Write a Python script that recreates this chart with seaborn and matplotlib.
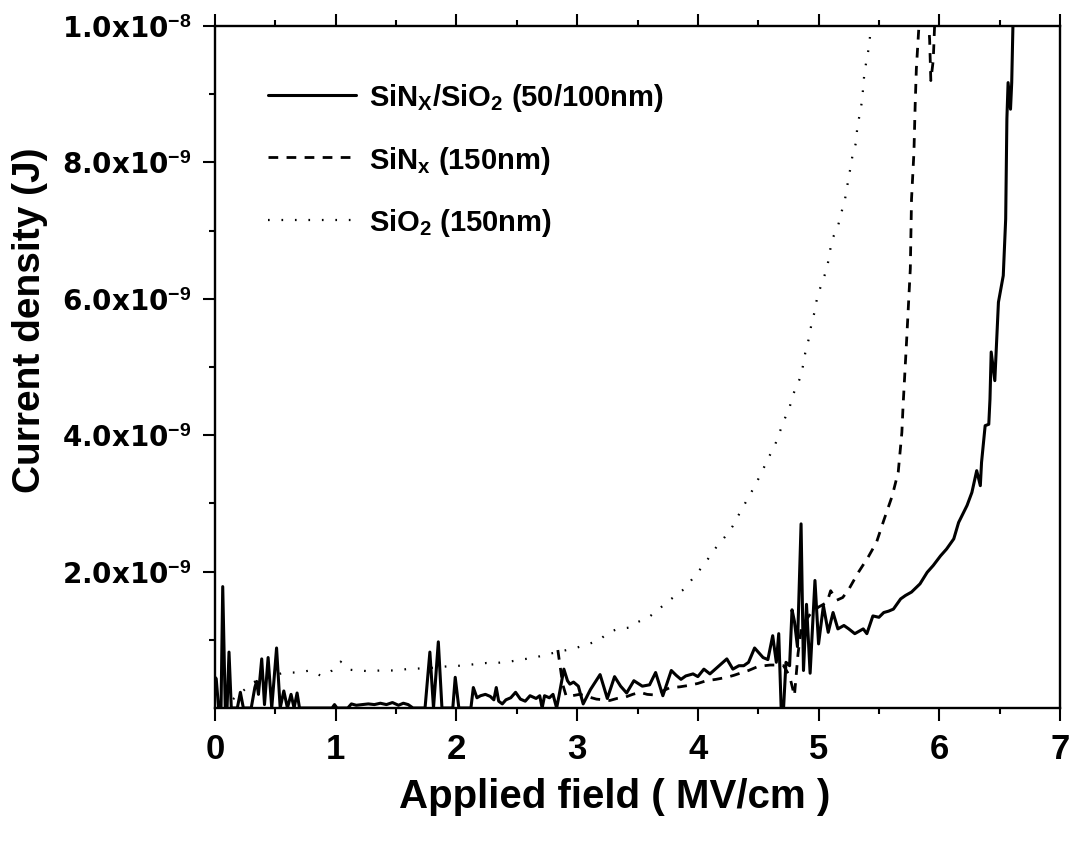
import numpy as np
import pandas as pd
import matplotlib
matplotlib.use("Agg")
import matplotlib.pyplot as plt
import seaborn as sns

# ---------------- data (x in MV/cm, y in units of 1e-9 J) ----------------
stack_x = [0.0, 0.01, 0.03, 0.05, 0.064, 0.085, 0.10, 0.116, 0.135, 0.185, 0.21, 0.235,
           0.30, 0.33, 0.345, 0.36, 0.387, 0.41, 0.44, 0.47, 0.51, 0.54, 0.57, 0.60,
           0.63, 0.655, 0.68, 0.70, 0.97, 0.99, 1.01, 1.10, 1.13, 1.17, 1.22, 1.27,
           1.32, 1.37, 1.42, 1.47, 1.52, 1.56, 1.60, 1.64, 1.74, 1.78, 1.81, 1.85,
           1.88, 1.97, 1.99, 2.02, 2.12, 2.14, 2.17, 2.20, 2.24, 2.28, 2.31, 2.33,
           2.35, 2.38, 2.41, 2.45, 2.49, 2.53, 2.57, 2.61, 2.66, 2.69, 2.71, 2.73,
           2.77, 2.80, 2.83, 2.85, 2.89, 2.92, 2.94, 2.97, 3.01, 3.05, 3.11, 3.19,
           3.25, 3.31, 3.36, 3.41, 3.47, 3.54, 3.60, 3.65, 3.71, 3.78, 3.82, 3.86,
           3.90, 3.96, 4.00, 4.05, 4.10, 4.17, 4.24, 4.29, 4.34, 4.38, 4.42, 4.47,
           4.54, 4.58, 4.62, 4.65, 4.67, 4.69, 4.71, 4.73, 4.76, 4.78, 4.80, 4.825,
           4.855, 4.875, 4.90, 4.93, 4.97, 5.00, 5.04, 5.08, 5.12, 5.16, 5.21, 5.25,
           5.30, 5.37, 5.40, 5.45, 5.50, 5.54, 5.58, 5.62, 5.68, 5.72, 5.77, 5.84,
           5.90, 5.95, 6.01, 6.06, 6.12, 6.16, 6.23, 6.27, 6.31, 6.34, 6.35, 6.38,
           6.41, 6.42, 6.43, 6.46, 6.49, 6.53, 6.55, 6.56, 6.57, 6.59, 6.60, 6.61,
           6.62]
stack_y = [0.45, 0.43, 0.0, 0.0, 1.78, 0.0, 0.0, 0.82, 0.0, 0.0, 0.23, 0.0,
           0.0, 0.30, 0.39, 0.20, 0.72, 0.05, 0.74, 0.0, 0.88, 0.0, 0.25, 0.0,
           0.20, 0.0, 0.22, 0.0, 0.0, 0.05, 0.0, 0.0, 0.06, 0.04, 0.05, 0.06,
           0.05, 0.07, 0.05, 0.08, 0.04, 0.07, 0.05, 0.0, 0.0, 0.82, 0.0, 0.97,
           0.0, 0.0, 0.45, 0.0, 0.0, 0.30, 0.15, 0.18, 0.20, 0.17, 0.12, 0.30,
           0.10, 0.06, 0.12, 0.15, 0.23, 0.13, 0.10, 0.18, 0.14, 0.18, 0.0, 0.18,
           0.15, 0.20, 0.0, 0.18, 0.57, 0.40, 0.35, 0.38, 0.32, 0.06, 0.27, 0.49,
           0.14, 0.46, 0.32, 0.22, 0.40, 0.32, 0.34, 0.52, 0.18, 0.55, 0.48, 0.42,
           0.47, 0.50, 0.46, 0.57, 0.50, 0.61, 0.72, 0.57, 0.62, 0.62, 0.67, 0.88,
           0.74, 0.71, 1.06, 0.67, 1.09, 0.0, 0.0, 0.67, 0.62, 1.44, 1.27, 0.90,
           2.70, 0.55, 1.52, 0.51, 1.87, 0.94, 1.50, 1.11, 1.40, 1.16, 1.21, 1.16,
           1.09, 1.16, 1.09, 1.35, 1.33, 1.40, 1.42, 1.45, 1.60, 1.65, 1.70, 1.82,
           1.99, 2.09, 2.23, 2.33, 2.48, 2.72, 2.97, 3.16, 3.48, 3.26, 3.60, 4.14,
           4.16, 4.53, 5.22, 4.80, 5.95, 6.34, 7.17, 8.64, 9.17, 8.78, 9.17, 10.0,
           10.5]

sin_x = [2.84, 2.86, 2.88, 2.91, 2.96, 3.02, 3.07, 3.12, 3.16, 3.22, 3.27, 3.33,
         3.40, 3.46, 3.52, 3.58, 3.65, 3.71, 3.77, 3.85, 3.92, 4.00, 4.07, 4.15,
         4.24, 4.30, 4.35, 4.42, 4.50, 4.55, 4.60, 4.66, 4.71, 4.76, 4.80, 4.83,
         4.86, 4.90, 4.94, 5.00, 5.07, 5.10, 5.15, 5.20, 5.25, 5.33, 5.41, 5.48,
         5.54, 5.61, 5.66, 5.69, 5.70, 5.73, 5.76, 5.77, 5.79, 5.80, 5.81, 5.83,
         5.85, 5.90, 5.92, 5.93, 5.95, 5.97]
sin_y = [0.85, 0.60, 0.35, 0.17, 0.18, 0.20, 0.18, 0.15, 0.13, 0.12, 0.11, 0.14,
         0.16, 0.20, 0.23, 0.20, 0.19, 0.25, 0.30, 0.31, 0.33, 0.36, 0.40, 0.42,
         0.45, 0.48, 0.51, 0.55, 0.61, 0.62, 0.63, 0.63, 0.62, 0.47, 0.18, 0.80,
         1.21, 1.30, 1.40, 1.48, 1.55, 1.72, 1.58, 1.62, 1.74, 1.99, 2.21, 2.43,
         2.75, 3.11, 3.46, 4.04, 4.43, 5.41, 6.44, 7.46, 8.15, 8.83, 9.37, 9.96,
         10.4, 10.4, 9.80, 9.20, 9.50, 10.4]

sio2_x = [0.15, 0.32, 0.57, 0.68, 0.79, 0.88, 0.97, 1.04, 1.12, 1.27, 1.37, 1.48,
          1.59, 1.70, 1.81, 1.92, 2.03, 2.14, 2.25, 2.33, 2.44, 2.54, 2.65, 2.76,
          2.86, 2.97, 3.08, 3.18, 3.26, 3.34, 3.44, 3.49, 3.60, 3.69, 3.78, 3.87,
          3.93, 4.00, 4.07, 4.14, 4.22, 4.29, 4.35, 4.41, 4.47, 4.53, 4.58, 4.64,
          4.71, 4.76, 4.79, 4.84, 4.87, 4.89, 4.92, 4.94, 4.97, 4.99, 5.03, 5.07,
          5.09, 5.11, 5.16, 5.19, 5.22, 5.24, 5.26, 5.28, 5.31, 5.32, 5.34, 5.36,
          5.37, 5.38, 5.40, 5.42, 5.43, 5.44]
sio2_y = [0.13, 0.38, 0.52, 0.52, 0.55, 0.47, 0.55, 0.68, 0.56, 0.54, 0.55, 0.55,
          0.57, 0.58, 0.59, 0.61, 0.62, 0.64, 0.66, 0.66, 0.68, 0.71, 0.74, 0.79,
          0.83, 0.87, 0.93, 0.99, 1.11, 1.16, 1.18, 1.25, 1.34, 1.47, 1.60, 1.72,
          1.84, 1.99, 2.15, 2.33, 2.50, 2.67, 2.87, 3.06, 3.25, 3.46, 3.65, 3.86,
          4.20, 4.41, 4.60, 4.81, 5.01, 5.21, 5.42, 5.62, 5.83, 6.04, 6.24, 6.45,
          6.65, 6.86, 7.06, 7.27, 7.47, 7.68, 7.88, 8.09, 8.29, 8.50, 8.70, 8.90,
          9.11, 9.32, 9.52, 9.72, 9.93, 10.2]

series_labels = [r"SiN$_{\mathregular{X}}$/SiO$_{\mathregular{2}}$ (50/100nm)",
                 r"SiN$_{\mathregular{x}}$ (150nm)",
                 r"SiO$_{\mathregular{2}}$ (150nm)"]
x_ticks = [0, 1, 2, 3, 4, 5, 6, 7]
x_minor = [0.5, 1.5, 2.5, 3.5, 4.5, 5.5, 6.5]
y_ticks = [2e-9, 4e-9, 6e-9, 8e-9, 1e-8]
y_tick_labels = [r"2.0x10$^{-9}$", r"4.0x10$^{-9}$", r"6.0x10$^{-9}$",
                 r"8.0x10$^{-9}$", r"1.0x10$^{-8}$"]
y_minor = [1e-9, 3e-9, 5e-9, 7e-9, 9e-9]
x_label = "Applied field ( MV/cm )"
y_label = "Current density (J)"

# ---------------- style ----------------
sns.set_theme(style="ticks")
plt.rcParams["font.family"] = ["Liberation Sans", "DejaVu Sans"]
plt.rcParams["font.weight"] = "bold"
plt.rcParams["text.color"] = "black"
plt.rcParams["axes.labelcolor"] = "black"
plt.rcParams["xtick.color"] = "black"
plt.rcParams["ytick.color"] = "black"
plt.rcParams["axes.edgecolor"] = "black"
plt.rcParams["mathtext.fontset"] = "custom"
plt.rcParams["mathtext.rm"] = "Liberation Sans:bold"
plt.rcParams["mathtext.bf"] = "Liberation Sans:bold"
plt.rcParams["mathtext.it"] = "Liberation Sans:bold"
plt.rcParams["mathtext.default"] = "rm"
plt.rcParams["lines.scale_dashes"] = False
plt.rcParams["axes.unicode_minus"] = True

frames = []
for lab, xs, ys in zip(series_labels,
                       [stack_x, sin_x, sio2_x],
                       [stack_y, sin_y, sio2_y]):
    frames.append(pd.DataFrame({"x": xs, "y": np.array(ys) * 1e-9, "s": lab}))
df = pd.concat(frames, ignore_index=True)

W, H = 1078, 845
fig = plt.figure(figsize=(W / 100, H / 100), dpi=100)
L, R, T, B = 215, 1060, 27, 709
ax = fig.add_axes([L / W, 1 - B / H, (R - L) / W, (B - T) / H])

styles = {series_labels[0]: "-",
          series_labels[1]: (0, (7, 6)),
          series_labels[2]: (0, (1.2, 8.5))}
widths = {series_labels[0]: 2.2, series_labels[1]: 2.0, series_labels[2]: 1.6}
for lab in series_labels:
    sub = df[df["s"] == lab]
    sns.lineplot(data=sub, x="x", y="y", ax=ax, sort=False, estimator=None,
                 color="black", linestyle=styles[lab], linewidth=widths[lab],
                 label=lab)

ax.set_xlim(0, 7)
ax.set_ylim(0, 1e-8)
ax.set_xticks(x_ticks)
ax.set_xticklabels([str(v) for v in x_ticks])
ax.set_xticks(x_minor, minor=True)
ax.set_yticks(y_ticks)
ax.set_yticklabels(y_tick_labels)
ax.set_yticks(y_minor, minor=True)

for sp in ax.spines.values():
    sp.set_linewidth(1.7)
    sp.set_color("black")
    sp.set_visible(True)

ax.tick_params(which="both", direction="out", top=True, right=False,
               labeltop=False, color="black", width=1.5)
ax.tick_params(which="major", length=9)
ax.tick_params(which="minor", length=4.5)
ax.tick_params(axis="x", which="major", pad=8, labelsize=25, labelcolor="black")
ax.tick_params(axis="y", which="major", pad=8, labelsize=20, labelcolor="black")
for t in ax.get_yticklabels():
    t.set_family(["DejaVu Sans"])
    t.set_weight("bold")
for t in ax.get_xticklabels():
    t.set_weight("bold")

ax.set_xlabel("")
ax.set_ylabel("")
fig.text(615 / W, 1 - 797 / H, x_label, ha="center", va="center",
         fontsize=29, fontweight="bold", color="black")
fig.text(30 / W, 1 - 320 / H, y_label, ha="center", va="center",
         rotation=90, fontsize=28, fontweight="bold", color="black")

leg = ax.legend(loc="upper left", bbox_to_anchor=(268 / W, 1 - 82 / H),
                bbox_transform=fig.transFigure, frameon=False,
                fontsize=21, handlelength=3.0, handletextpad=0.45,
                labelspacing=1.05, borderpad=0, borderaxespad=0)
for t in leg.get_texts():
    t.set_weight("bold")
    t.set_color("black")

fig.savefig("out.png", dpi=100)
